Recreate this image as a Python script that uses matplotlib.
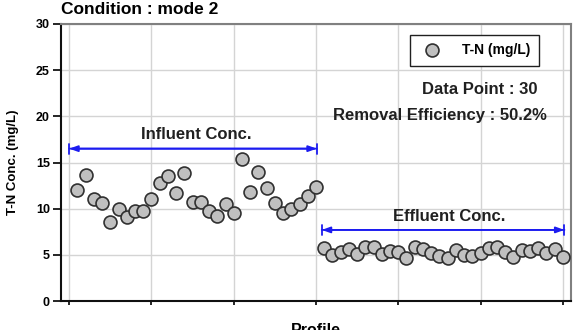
import numpy as np
import matplotlib
matplotlib.use("Agg")
import matplotlib.pyplot as plt

# T-N concentration profile, condition mode 2 (30 influent + 30 effluent samples)
influent = [12.0, 13.7, 11.0, 10.6, 8.6, 10.0, 9.1, 9.8, 9.7, 11.0,
            12.8, 13.5, 11.7, 13.9, 10.7, 10.7, 9.7, 9.2, 10.5, 9.5,
            15.4, 11.8, 14.0, 12.2, 10.6, 9.5, 10.0, 10.5, 11.4, 12.4]
effluent = [5.7, 5.0, 5.35, 5.6, 5.1, 5.9, 5.85, 5.1, 5.4, 5.3,
            4.65, 5.8, 5.6, 5.15, 4.9, 4.65, 5.5, 5.0, 4.9, 5.15,
            5.7, 5.9, 5.35, 4.8, 5.5, 5.45, 5.7, 5.25, 5.6, 4.75]
tn = influent + effluent
profile = np.arange(1, len(tn) + 1)
yticks = [0, 5, 10, 15, 20, 25, 30]
xgrid = [0, 10, 20, 30, 40, 50, 60]

plt.rcParams["font.family"] = ["Liberation Sans", "DejaVu Sans"]
plt.rcParams["font.weight"] = "bold"

fig = plt.figure(figsize=(5.77, 3.30), dpi=100)
ax = fig.add_axes([61 / 577, 1 - 301 / 330, 510 / 577, 277 / 330])

ax.plot(profile, tn, "o", ms=9.3, mfc="#c0c0c0", mec="#303030", mew=1.2,
        ls="none", label="T-N (mg/L)", zorder=3)

ax.set_xlim(-1, 61)
ax.set_ylim(0, 30)
ax.set_yticks(yticks)
ax.set_xticks(xgrid)
ax.set_xticklabels([])
ax.tick_params(axis="y", direction="out", length=6, width=1.2, labelsize=9, pad=2)
ax.tick_params(axis="x", direction="out", length=3, width=1.2)
for t in ax.get_yticklabels():
    t.set_fontweight("bold")
ax.grid(True, color="#d4d4d4", lw=1.0, zorder=0)
ax.set_axisbelow(True)
for s in ["left", "bottom"]:
    ax.spines[s].set_linewidth(1.5)
    ax.spines[s].set_color("#101010")
for s in ["top", "right"]:
    ax.spines[s].set_linewidth(1.5)
    ax.spines[s].set_color("#808080")

ax.set_ylabel("T-N Conc. (mg/L)", fontsize=9.5, fontweight="bold")
ax.yaxis.set_label_coords(-0.082, 0.5)
ax.set_xlabel("Profile", fontsize=11.5, fontweight="bold")
ax.xaxis.set_label_coords(0.5, -0.079)

fig.text(61 / 577, 1 - 10 / 330, "Condition : mode 2", fontsize=12.5,
         fontweight="bold", ha="left", va="center")

blue = "#1c1cf0"
for x0, x1, y in [(0, 30.1, 16.5), (30.7, 60.2, 7.7)]:
    ax.annotate("", xy=(x0, y), xytext=(x1, y),
                arrowprops=dict(arrowstyle="|-|, widthA=0.35, widthB=0.35", color=blue,
                                lw=1.3, shrinkA=0, shrinkB=0))
    ax.annotate("", xy=(x0, y), xytext=(x1, y),
                arrowprops=dict(arrowstyle="<|-|>, head_length=0.5, head_width=0.18",
                                color=blue, lw=1.3, shrinkA=0, shrinkB=0))
ax.text(15.5, 18.0, "Influent Conc.", fontsize=12, fontweight="bold",
        ha="center", va="center", color="#202020")
ax.text(46.2, 9.2, "Effluent Conc.", fontsize=12, fontweight="bold",
        ha="center", va="center", color="#202020")

ax.text(0.935, 0.765, "Data Point : 30", transform=ax.transAxes, fontsize=12,
        fontweight="bold", ha="right", va="center", color="#202020")
ax.text(0.953, 0.671, "Removal Efficiency : 50.2%", transform=ax.transAxes,
        fontsize=12, fontweight="bold", ha="right", va="center", color="#202020")

leg = ax.legend(loc="upper right", bbox_to_anchor=(0.937, 0.96), borderaxespad=0,
                fancybox=False, framealpha=1, edgecolor="#202020", fontsize=10,
                borderpad=0.6, handlelength=2.0, handletextpad=1.15)
leg.get_frame().set_linewidth(1.0)
for t in leg.get_texts():
    t.set_fontweight("bold")

fig.savefig("out.png", dpi=100)
